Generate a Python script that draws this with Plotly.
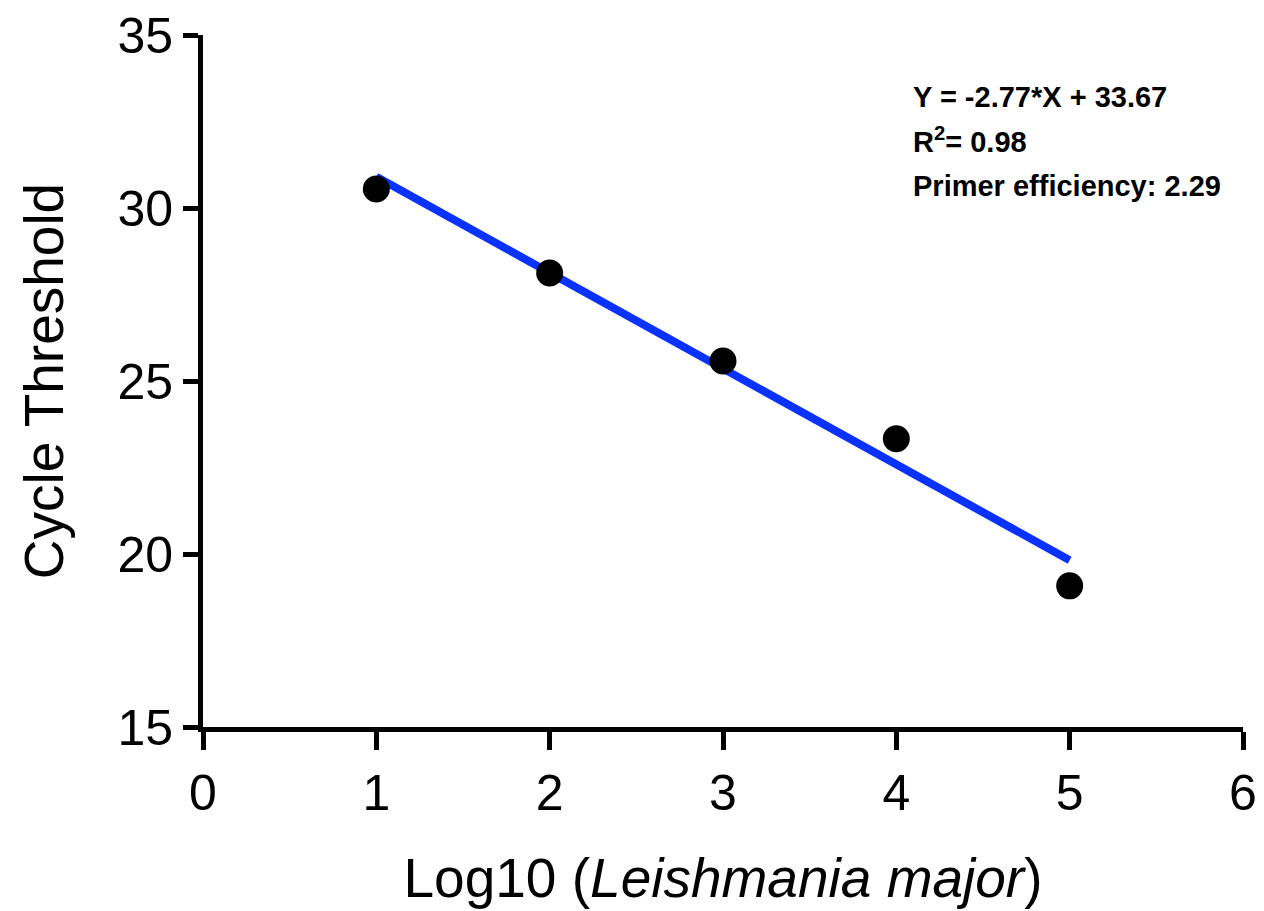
import plotly.graph_objects as go

log10_counts = [1, 2, 3, 4, 5]
cycle_threshold = [30.55, 28.12, 25.58, 23.33, 19.08]
slope = -2.77
intercept = 33.67
r_squared = 0.98
primer_eff = 2.29

fit_x = [min(log10_counts), max(log10_counts)]
fit_y = [slope * x + intercept for x in fit_x]

FONT = "Liberation Sans, Arial, Helvetica, sans-serif"

fig = go.Figure()
fig.add_trace(go.Scatter(x=fit_x, y=fit_y, mode="lines",
                         line=dict(color="#0a32ff", width=8), showlegend=False))
fig.add_trace(go.Scatter(x=log10_counts, y=cycle_threshold, mode="markers",
                         marker=dict(color="black", size=27), showlegend=False))

ann_lines = [
    f"<b>Y = {slope}*X + {intercept}</b>",
    f"<b>R<sup>2</sup>= {r_squared}</b>",
    f"<b>Primer efficiency: {primer_eff}</b>",
]
ann_py = [97, 140, 186]
for txt, py in zip(ann_lines, ann_py):
    fig.add_annotation(
        x=(911 - 203) / 1040, y=(727 - py) / 692, xref="paper", yref="paper",
        xanchor="left", yanchor="middle", text=txt, showarrow=False, align="left",
        font=dict(family=FONT, size=29, color="black"))

fig.update_layout(
    width=1264, height=911,
    margin=dict(l=203, r=21, t=35, b=184),
    plot_bgcolor="white", paper_bgcolor="white",
    font=dict(family=FONT, color="black"),
    xaxis=dict(range=[0, 6], tickvals=[0, 1, 2, 3, 4, 5, 6], showgrid=False, zeroline=False,
               showline=True, linecolor="black", linewidth=5, automargin=False,
               ticks="outside", ticklen=18, tickwidth=5, tickcolor="black",
               tickfont=dict(size=50, family=FONT),
               title=dict(text="Log10 (<i>Leishmania major</i>)", font=dict(size=55, family=FONT),
                          standoff=40)),
    yaxis=dict(range=[15, 35], tickvals=[15, 20, 25, 30, 35], showgrid=False, zeroline=False,
               showline=True, linecolor="black", linewidth=5, automargin=False,
               ticks="outside", ticklen=15, tickwidth=5, tickcolor="black",
               tickfont=dict(size=50, family=FONT),
               title=dict(text="Cycle Threshold", font=dict(size=55, family=FONT),
                          standoff=38)),
)

fig.write_html("out.html")
